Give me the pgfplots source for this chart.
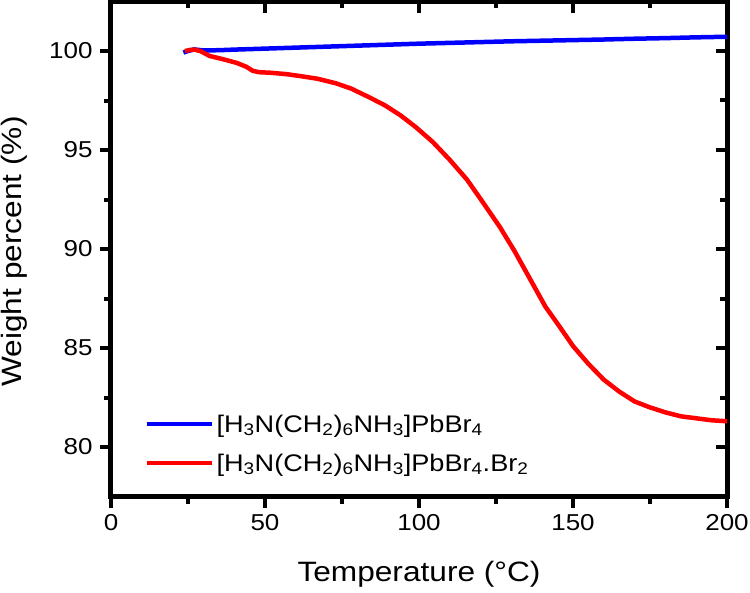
\documentclass[border=0pt]{standalone}
\usepackage{fontspec}
\setmainfont[FakeStretch=1.13]{Liberation Sans}
\usepackage{pgfplots}
\pgfplotsset{compat=1.18}
\definecolor{pblue}{RGB}{0,0,255}
\definecolor{pred}{RGB}{255,0,0}
\pgfplotsset{
  common/.style={
    at={(0,0)}, anchor=south west,
    scale only axis, width=616pt, height=495pt,
    xmin=0, xmax=200, ymin=77.5, ymax=102.5,
    xtick={0,50,...,200}, ytick={80,85,...,100},
    minor x tick num=1, minor y tick num=1,
    major tick length=11pt, minor tick length=7pt,
    axis line style={line width=5pt, black},
    tick style={line width=4pt, black},
    /pgf/number format/assume math mode=true,
    tick label style={font=\fontsize{23}{23}\selectfont},
  }
}
\begin{document}
\begin{tikzpicture}
\path[use as bounding box] (-111pt,-96pt) rectangle (639pt,496.5pt);
\begin{axis}[common,
  tick align=inside, xtick pos=right, ytick pos=right,
  xticklabels={}, yticklabels={},
]
\end{axis}
\begin{axis}[common,
  tick align=outside, xtick pos=left, ytick pos=left,
  yticklabel style={xshift=-4pt},
  xticklabel style={yshift=-3pt},
  xlabel={Temperature (°C)}, ylabel={Weight percent (\%)},
  label style={font=\fontsize{28}{28}\selectfont},
  xlabel style={at={(axis description cs:0.5,-0.1576)}, anchor=center},
  ylabel style={at={(axis description cs:-0.1575,0.495)}, anchor=center},
  legend cell align=left,
  legend style={at={(axis description cs:0.05,0.04)}, anchor=south west,
    draw=none, fill=none, font=\fontsize{24}{24}\selectfont, row sep=16pt},
  legend image code/.code={\draw[#1] (0pt,0pt) -- (65pt,0pt);},
]
\addplot[pblue, line width=4.5pt] coordinates {
(23.5,99.92) (25,100.0) (27,100.08) (30,100.03) (35,100.04) (40,100.07)
(50,100.12) (60,100.17) (70,100.22) (80,100.27) (90,100.32) (100,100.37)
(110,100.41) (120,100.45) (130,100.49) (140,100.52) (150,100.55) (160,100.58)
(170,100.62) (180,100.65) (190,100.69) (200,100.72)
};
\addlegendentry{[H\textsubscript{3}N(CH\textsubscript{2})\textsubscript{6}NH\textsubscript{3}]PbBr\textsubscript{4}}
\addplot[pred, line width=4.5pt] coordinates {
(24,100.0) (25.5,100.05) (27,100.07) (29,100.0) (32,99.75) (36,99.6)
(40.8,99.4) (44,99.2) (46,99.0) (48,98.93) (52,98.9) (57,98.83) (62,98.72)
(67,98.6) (73,98.37) (78,98.1) (84,97.65) (89,97.25) (94,96.75) (99,96.15)
(104.5,95.4) (110,94.5) (115.6,93.5) (121,92.3) (126.3,91.1) (131,89.9)
(136,88.5) (141,87.1) (146,86.0) (150,85.1) (155,84.2) (160,83.4) (165,82.8)
(170,82.3) (175,82.0) (180,81.75) (185,81.55) (190,81.45) (195,81.35) (200,81.3)
};
\addlegendentry{[H\textsubscript{3}N(CH\textsubscript{2})\textsubscript{6}NH\textsubscript{3}]PbBr\textsubscript{4}.Br\textsubscript{2}}
\end{axis}
\end{tikzpicture}
\end{document}
